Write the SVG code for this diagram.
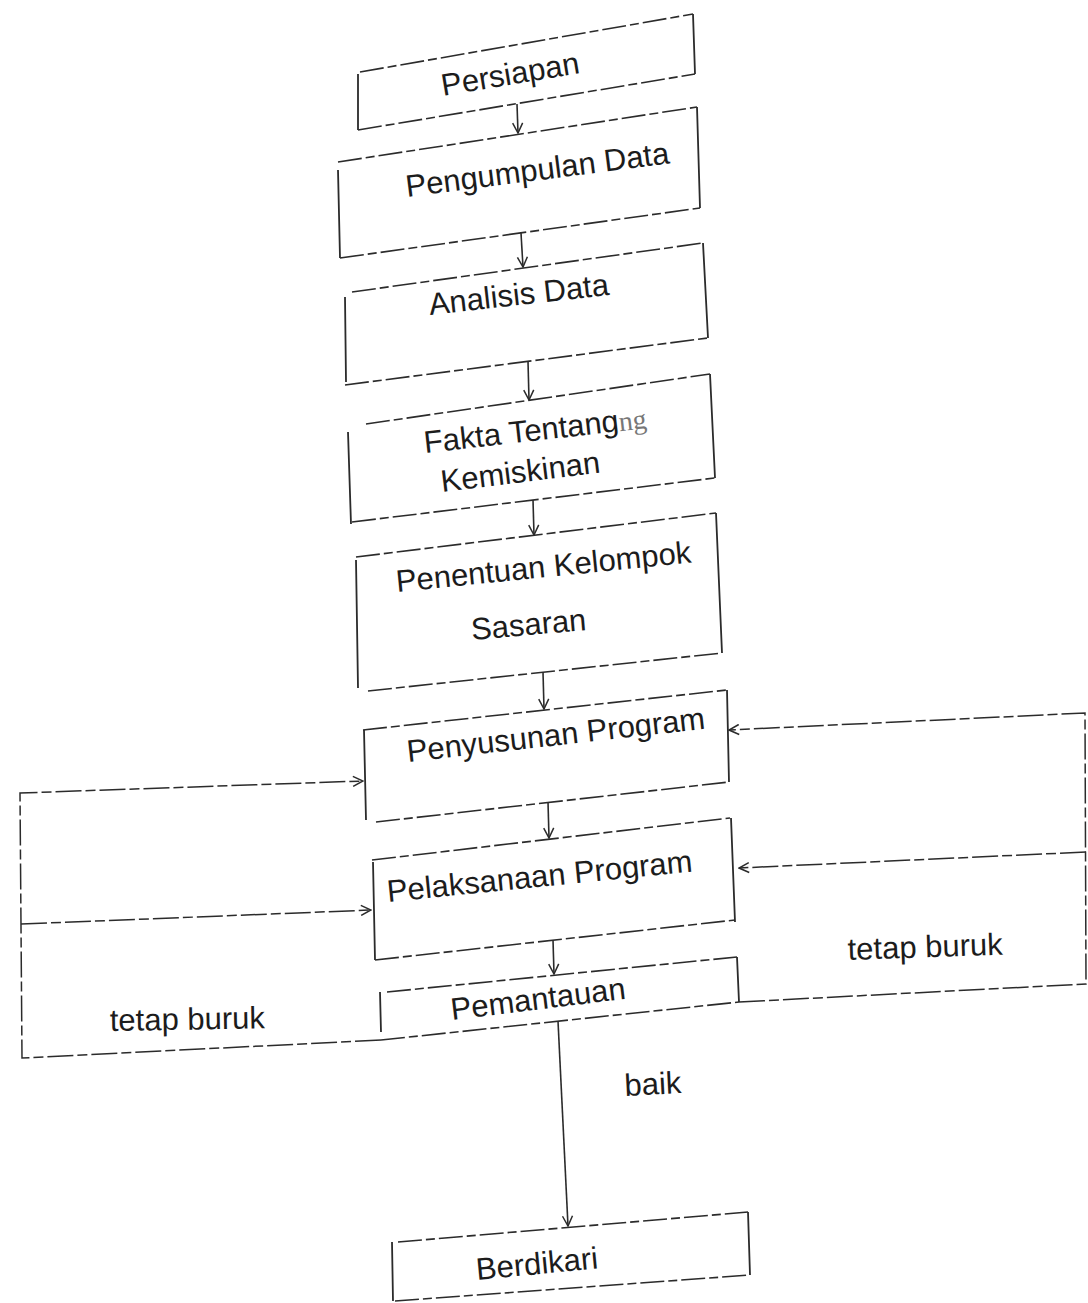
<svg xmlns="http://www.w3.org/2000/svg" width="1088" height="1303" viewBox="0 0 1088 1303">
<defs>
<style>
.h{fill:none;stroke:#2b2b2b;stroke-width:1.6;stroke-dasharray:24 4 9 4}
.v{fill:none;stroke:#2b2b2b;stroke-width:1.8}
.c{fill:none;stroke:#2b2b2b;stroke-width:1.6}
.cd{fill:none;stroke:#2b2b2b;stroke-width:1.5;stroke-dasharray:26 4 10 4}
.t{font-family:"Liberation Sans",Arial,sans-serif;font-size:31px;fill:#1c1c1c}
.s{font-family:"Liberation Serif",serif;font-size:28px;fill:#777}
</style>
<marker id="ar" viewBox="0 0 12 12" refX="11" refY="6" markerWidth="12" markerHeight="12" markerUnits="userSpaceOnUse" orient="auto">
<path d="M1,1 L11,6 L1,11" fill="none" stroke="#2b2b2b" stroke-width="1.5"/>
</marker>
</defs>
<rect width="1088" height="1303" fill="#fff"/>

<g id="persiapan">
<path class="h" d="M360,72 L693,14 M358,130 L695,74"/>
<path class="v" d="M693,14 L695,74 M358,74 L358,130"/>
<text class="t" x="443" y="96" transform="rotate(-9.5 443 96)">Persiapan</text>
</g>

<g id="pengumpulan">
<path class="h" d="M338,162 L697,107 M340,258 L700,208"/>
<path class="v" d="M697,107 L700,208 M338,170 L340,258"/>
<text class="t" x="407" y="197" transform="rotate(-7.3 407 197)">Pengumpulan Data</text>
</g>

<g id="analisis">
<path class="h" d="M352,292 L703,243 M345,385 L708,338"/>
<path class="v" d="M703,243 L708,338 M345,297 L346,382"/>
<text class="t" x="430" y="315" transform="rotate(-6.4 430 315)">Analisis Data</text>
</g>

<g id="fakta">
<path class="h" d="M366,424 L710,374 M352,522 L715,478"/>
<path class="v" d="M710,374 L715,478 M348,432 L351,524"/>
<text class="t" x="425" y="453" transform="rotate(-6.4 425 453)">Fakta Tentang<tspan class="s">ng</tspan></text>
<text class="t" x="442" y="492" transform="rotate(-7 442 492)">Kemiskinan</text>
</g>

<g id="penentuan">
<path class="h" d="M356,557 L716,513 M368,691 L722,653"/>
<path class="v" d="M716,513 L722,653 M356,560 L358,688"/>
<text class="t" x="397" y="592" transform="rotate(-5.7 397 592)">Penentuan Kelompok</text>
<text class="t" x="472" y="640" transform="rotate(-5 472 640)">Sasaran</text>
</g>

<g id="penyusunan">
<path class="h" d="M363,730 L727,690 M376,822 L729,782"/>
<path class="v" d="M727,690 L729,782 M364,730 L366,820"/>
<text class="t" x="408" y="762" transform="rotate(-6.4 408 762)">Penyusunan Program</text>
</g>

<g id="pelaksanaan">
<path class="h" d="M372,860 L730,818 M375,960 L735,920"/>
<path class="v" d="M731,818 L735,922 M373,862 L375,960"/>
<text class="t" x="388" y="902" transform="rotate(-5.7 388 902)">Pelaksanaan Program</text>
</g>

<g id="pemantauan">
<path class="h" d="M387,992 L737,957 M381,1040 L739,1002"/>
<path class="v" d="M737,957 L739,1002 M380,992 L381,1032"/>
<text class="t" x="452" y="1020" transform="rotate(-7 452 1020)">Pemantauan</text>
</g>

<g id="berdikari">
<path class="h" d="M398,1242 L748,1212 M395,1301 L750,1275"/>
<path class="v" d="M748,1212 L750,1275 M392,1242 L393,1301"/>
<text class="t" x="477" y="1280" transform="rotate(-5.5 477 1280)">Berdikari</text>
</g>

<g id="connectors">
<path class="c" marker-end="url(#ar)" d="M517,104 L518,133"/>
<path class="c" marker-end="url(#ar)" d="M521,233 L523,267"/>
<path class="c" marker-end="url(#ar)" d="M528,361 L529,400"/>
<path class="c" marker-end="url(#ar)" d="M533,500 L534,535"/>
<path class="c" marker-end="url(#ar)" d="M543,672 L544,709"/>
<path class="c" marker-end="url(#ar)" d="M548,802 L549,838"/>
<path class="c" marker-end="url(#ar)" d="M553,940 L554,974"/>
<path class="c" marker-end="url(#ar)" d="M558,1021 L568,1226"/>
<path class="cd" marker-end="url(#ar)" d="M381,1040 L22,1058 L20,793 L363,781"/>
<path class="cd" marker-end="url(#ar)" d="M21,924 L371,910"/>
<path class="cd" marker-end="url(#ar)" d="M739,1002 L1086,984 L1085,713 L729,730"/>
<path class="cd" marker-end="url(#ar)" d="M1086,852 L739,868"/>
<text class="t" x="110" y="1031" transform="rotate(-1 110 1031)">tetap buruk</text>
<text class="t" x="848" y="960" transform="rotate(-2 848 960)">tetap buruk</text>
<text class="t" x="625" y="1096" transform="rotate(-3 625 1096)">baik</text>
</g>
</svg>
